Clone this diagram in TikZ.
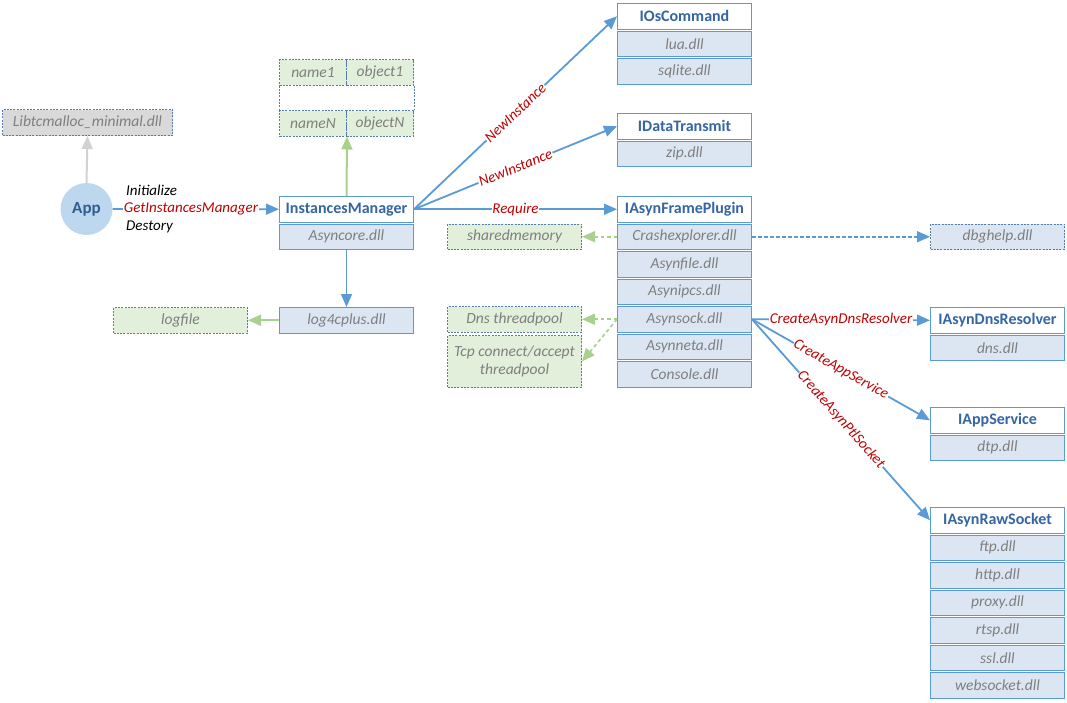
\documentclass[tikz,border=0pt]{standalone}
\usepackage{fontspec}
\setmainfont{Carlito}
\usetikzlibrary{arrows.meta}
\definecolor{bl}{RGB}{91,155,213}
\definecolor{hdrtxt}{RGB}{52,101,164}
\definecolor{subfill}{RGB}{220,230,242}
\definecolor{subtxt}{RGB}{127,127,127}
\definecolor{dashc}{RGB}{84,125,170}
\definecolor{gfill}{RGB}{226,239,218}
\definecolor{garr}{RGB}{169,209,142}
\definecolor{lblred}{RGB}{192,0,0}
\definecolor{grayfill}{RGB}{217,217,217}
\definecolor{grayarr}{RGB}{210,210,210}
\definecolor{appfill}{RGB}{189,215,238}
\definecolor{apptxt}{RGB}{46,94,142}
\begin{document}
\begin{tikzpicture}[x=1pt,y=-1pt,
  box/.style={draw=bl, line width=1pt, minimum width=134pt, minimum height=25.5pt, anchor=north west, inner sep=0pt},
  hdr/.style={box, fill=white, font=\fontsize{16}{18}\selectfont\bfseries, text=hdrtxt},
  sub/.style={box, fill=subfill, font=\fontsize{15.5}{17.5}\selectfont\itshape, text=subtxt},
  dbox/.style={box, draw=dashc, dash pattern=on 2pt off 1.3pt, font=\fontsize{15.5}{17.5}\selectfont\itshape, text=subtxt},
  gbox/.style={dbox, fill=gfill},
  bdbox/.style={dbox, fill=subfill},
  lbl/.style={font=\fontsize{15}{17}\selectfont\itshape, text=lblred, fill=white, inner sep=0.8pt},
  plain/.style={font=\fontsize{15}{17}\selectfont\itshape, text=black, inner sep=0pt},
  barrow/.style={draw=bl, line width=1.8pt, -{Triangle[length=13pt,width=11pt]}},
  bdarrow/.style={barrow, line width=1.6pt, dash pattern=on 3.5pt off 2.5pt},
  garrow/.style={draw=garr, line width=2pt, -{Triangle[length=13pt,width=11pt]}},
  gdarrow/.style={garrow, line width=1.7pt, dash pattern=on 3.5pt off 3pt},
  grarrow/.style={draw=grayarr, line width=2pt, -{Triangle[length=13pt,width=11pt]}},
  dline/.style={draw=dashc, line width=1pt, dash pattern=on 2pt off 1.3pt}
]
\useasboundingbox (0,0) rectangle (1067,702);

% App
\node[circle, fill=appfill, minimum size=52pt, inner sep=0pt, font=\fontsize{17}{19}\selectfont\bfseries, text=apptxt] (app) at (86.5,209) {App};
\node[dbox, fill=grayfill, minimum width=170pt, minimum height=26pt] (lib) at (2,109) {Libtcmalloc\_minimal.dll};

% InstancesManager column
\node[hdr] (im) at (279,196) {InstancesManager};
\node[sub] (asc) at (279,223.5) {Asyncore.dll};
\node[sub] (log) at (279,307) {log4cplus.dll};
\node[gbox] (logf) at (113,307) {logfile};

% name/object table
\node[gbox, minimum width=67pt] (n1) at (279,59) {name1};
\node[gbox, minimum width=67pt] (o1) at (346,59) {object1};
\node[gbox, minimum width=67pt] (nN) at (279,110) {nameN};
\node[gbox, minimum width=67pt] (oN) at (346,110) {objectN};
\draw[dline] (n1.south west) -- (nN.north west);
\draw[dline] (o1.south east) -- (oN.north east);

% IOsCommand
\node[hdr] (ios) at (617,3) {IOsCommand};
\node[sub] (lua) at (617,30.5) {lua.dll};
\node[sub] (sql) at (617,58) {sqlite.dll};

% IDataTransmit
\node[hdr] (idt) at (617,113) {IDataTransmit};
\node[sub] (zip) at (617,140.5) {zip.dll};

% IAsynFramePlugin
\node[hdr] (ifp) at (617,196) {IAsynFramePlugin};
\node[sub] (crash) at (617,223.5) {Crashexplorer.dll};
\node[sub] (afile) at (617,251) {Asynfile.dll};
\node[sub] (aipc) at (617,278.5) {Asynipcs.dll};
\node[sub] (asock) at (617,306) {Asynsock.dll};
\node[sub] (aneta) at (617,333.5) {Asynneta.dll};
\node[sub] (cons) at (617,361) {Console.dll};

% left side helpers
\node[gbox] (shm) at (447,223.5) {sharedmemory};
\node[gbox] (dnsp) at (447,306) {Dns threadpool};
\node[gbox, minimum height=52pt, align=center] (tcp) at (447,335) {Tcp connect/accept\\threadpool};

% right column
\node[bdbox] (dbg) at (930,223.5) {dbghelp.dll};
\node[hdr] (idns) at (930,307) {IAsynDnsResolver};
\node[sub] (dns) at (930,334.5) {dns.dll};
\node[hdr] (iapp) at (930,407) {IAppService};
\node[sub] (dtp) at (930,434.5) {dtp.dll};
\node[hdr] (iraw) at (930,507) {IAsynRawSocket};
\node[sub] (ftp) at (930,534.5) {ftp.dll};
\node[sub] (http) at (930,562) {http.dll};
\node[sub] (proxy) at (930,589.5) {proxy.dll};
\node[sub] (rtsp) at (930,617) {rtsp.dll};
\node[sub] (ssl) at (930,644.5) {ssl.dll};
\node[sub] (ws) at (930,672) {websocket.dll};

% connectors
\draw[grarrow] (app.north) -- (lib.south);
\draw[barrow] (app) -- node[lbl, pos=0.47] (gim) {GetInstancesManager} (im);
\node[plain, anchor=west] (init) at (126,190) {Initialize};
\node[plain, anchor=west] (dest) at (126,227) {Destory};

\draw[garrow] (im.north) -- (nN.south east);
\draw[barrow] (asc.south) -- (log.north);
\draw[garrow] (log.west) -- (logf.east);

\draw[barrow] (im.east) -- node[lbl, sloped, pos=0.5] {NewInstance} (ios.west);
\draw[barrow] (im.east) -- node[lbl, sloped, pos=0.5] {NewInstance} (idt.west);
\draw[barrow] (im.east) -- node[lbl, pos=0.5] {Require} (ifp.west);

\draw[gdarrow] (crash.west) -- (shm.east);
\draw[bdarrow] (crash.east) -- (dbg.west);
\draw[gdarrow] (asock.west) -- (dnsp.east);
\draw[gdarrow] (asock.west) -- (tcp.east);

\draw[barrow] (asock.east) -- node[lbl, pos=0.5] {CreateAsynDnsResolver} (idns.west);
\draw[barrow] (asock.east) -- node[lbl, sloped, pos=0.5] {CreateAppService} (iapp.west);
\draw[barrow] (asock.east) -- node[lbl, sloped, pos=0.5] {CreateAsynPtlSocket} (iraw.west);
\end{tikzpicture}
\end{document}
